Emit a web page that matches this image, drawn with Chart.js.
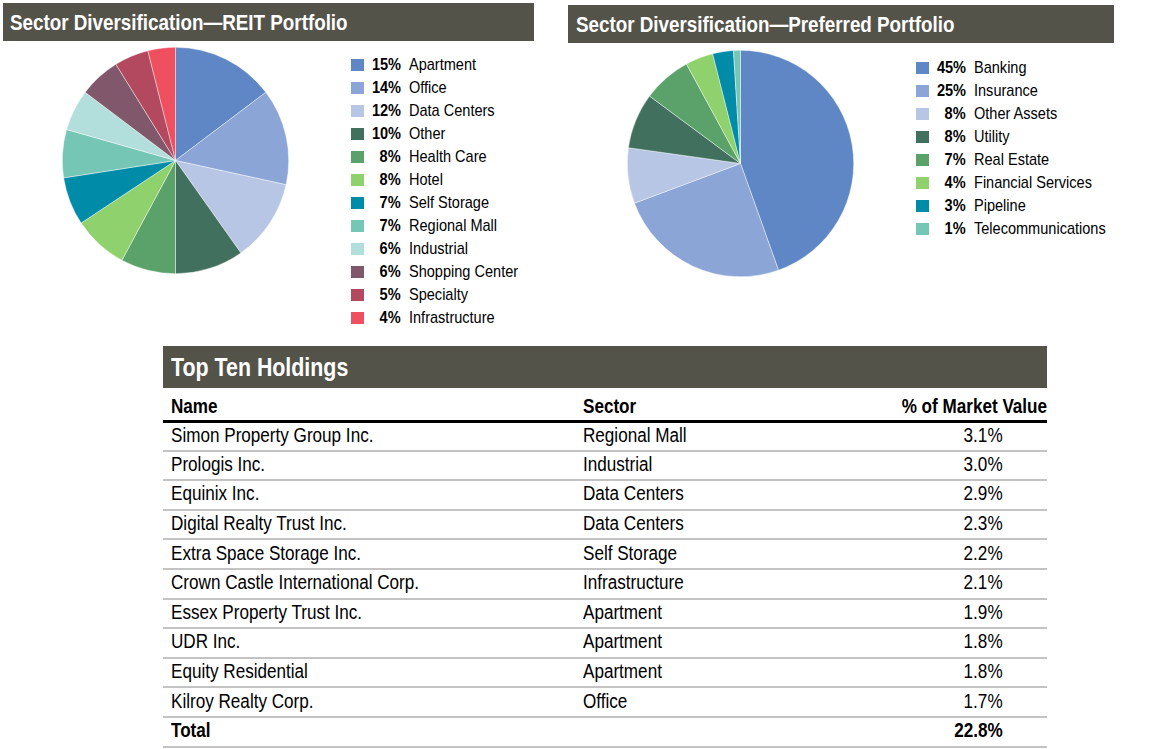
<!DOCTYPE html>
<html><head><meta charset="utf-8">
<script src="https://cdn.jsdelivr.net/npm/chart.js@4"></script>
<style>
html,body{margin:0;padding:0;background:#fff;width:1156px;height:749px;overflow:hidden;font-family:"Liberation Sans",Arial,sans-serif;}
.hdr{position:absolute;background:#54534a;color:#fff;font-weight:bold;box-sizing:border-box;white-space:nowrap;}
.n{display:inline-block;white-space:nowrap;transform:scaleX(0.855);transform-origin:left center;}
.nr{display:inline-block;white-space:nowrap;transform:scaleX(0.855);transform-origin:right center;}
.leg{position:absolute;font-size:17px;color:#000;}
.leg .row{height:23px;display:flex;align-items:center;}
.leg .sw{width:13px;height:12px;display:inline-block;flex:none;}
.leg .pct{font-weight:bold;text-align:right;display:inline-block;flex:none;}
.leg .lab{display:inline-block;margin-left:8px;}
canvas{position:absolute;}
table{position:absolute;left:163px;top:388px;width:884px;border-collapse:collapse;table-layout:fixed;font-size:20px;color:#000;}
th{font-weight:bold;text-align:left;height:33px;border-bottom:3px solid #000;padding:6px 0 0 0;box-sizing:border-box;vertical-align:middle;}
td{height:29.6px;border-bottom:2px solid #c3c3c3;padding:0 0 2px 0;box-sizing:border-box;vertical-align:middle;}
</style></head><body>
<div class="hdr" style="left:3px;top:3px;width:531px;height:38px;font-size:22px;padding:7px 0 0 7px;"><span class="n">Sector Diversification—REIT Portfolio</span></div>
<div class="hdr" style="left:568px;top:5px;width:546px;height:38px;font-size:22px;padding:7px 0 0 8px;"><span class="n">Sector Diversification—Preferred Portfolio</span></div>
<canvas id="c1" width="227" height="227" style="left:62px;top:47px;"></canvas>
<canvas id="c2" width="227" height="227" style="left:627px;top:50px;"></canvas>
<div class="leg" id="leg1" style="left:351px;top:53px;"></div>
<div class="leg" id="leg2" style="left:916px;top:56px;"></div>
<div class="hdr" style="left:163px;top:346px;width:884px;height:42px;font-size:25px;padding:7px 0 0 8px;"><span class="n">Top Ten Holdings</span></div>
<table id="tbl"></table>
<script>
const reitLabels = ["Apartment","Office","Data Centers","Other","Health Care","Hotel","Self Storage","Regional Mall","Industrial","Shopping Center","Specialty","Infrastructure"];
const reitValues = [15,14,12,10,8,8,7,7,6,6,5,4];
const reitColors = ["#5f87c6","#8aa5d6","#b8c6e6","#41715e","#5aa26a","#8fd16d","#008ca8","#76c6b6","#b2dedb","#81586b","#b3495f","#ef5060"];
const prefLabels = ["Banking","Insurance","Other Assets","Utility","Real Estate","Financial Services","Pipeline","Telecommunications"];
const prefValues = [45,25,8,8,7,4,3,1];
const prefColors = ["#5f87c6","#8aa5d6","#b8c6e6","#41715e","#5aa26a","#8fd16d","#008ca8","#76c6b6"];
const holdNames = ["Simon Property Group Inc.","Prologis Inc.","Equinix Inc.","Digital Realty Trust Inc.","Extra Space Storage Inc.","Crown Castle International Corp.","Essex Property Trust Inc.","UDR Inc.","Equity Residential","Kilroy Realty Corp."];
const holdSectors = ["Regional Mall","Industrial","Data Centers","Data Centers","Self Storage","Infrastructure","Apartment","Apartment","Apartment","Office"];
const holdValues = [3.1,3.0,2.9,2.3,2.2,2.1,1.9,1.8,1.8,1.7];
const holdTotal = 22.8;

function pie(id, labels, values, colors){
  new Chart(document.getElementById(id), {
    type:'pie',
    data:{labels:labels, datasets:[{data:values, backgroundColor:colors, borderWidth:0.6, borderColor:'rgba(255,255,255,0.7)'}]},
    options:{responsive:false, animation:false, layout:{padding:0},
      plugins:{legend:{display:false}, tooltip:{enabled:false}}}
  });
}
pie('c1', reitLabels, reitValues, reitColors);
pie('c2', prefLabels, prefValues, prefColors);

function legend(id, labels, values, colors){
  const el = document.getElementById(id);
  labels.forEach((l,i)=>{
    const r = document.createElement('div'); r.className='row';
    r.innerHTML = '<span class="sw" style="background:'+colors[i]+'"></span><span class="pct" style="width:37px"><span class="nr">'+values[i]+'%</span></span><span class="lab"><span class="n">'+l+'</span></span>';
    el.appendChild(r);
  });
}
legend('leg1', reitLabels, reitValues, reitColors);
legend('leg2', prefLabels, prefValues, prefColors);

const t = document.getElementById('tbl');
let h = '<colgroup><col style="width:420px"><col style="width:214px"><col style="width:250px"></colgroup>';
h += '<tr><th style="padding-left:8px"><span class="n">Name</span></th><th><span class="n">Sector</span></th><th style="text-align:right"><span class="nr">% of Market Value</span></th></tr>';
holdNames.forEach((n,i)=>{
  h += '<tr><td style="padding-left:8px"><span class="n">'+n+'</span></td><td><span class="n">'+holdSectors[i]+'</span></td><td style="text-align:right;padding-right:44px"><span class="nr">'+holdValues[i].toFixed(1)+'%</span></td></tr>';
});
h += '<tr><td style="padding-left:8px;font-weight:bold"><span class="n">Total</span></td><td></td><td style="text-align:right;padding-right:44px;font-weight:bold"><span class="nr">'+holdTotal.toFixed(1)+'%</span></td></tr>';
t.innerHTML = h;
</script>
</body></html>
